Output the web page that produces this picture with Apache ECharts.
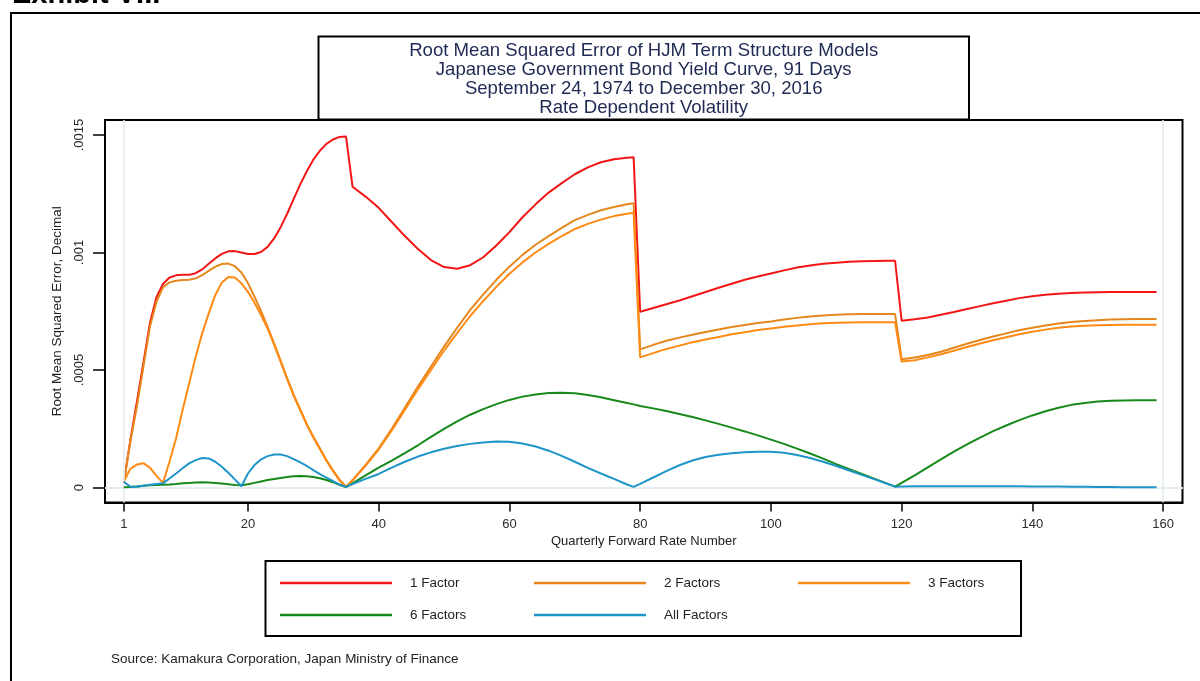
<!DOCTYPE html>
<html>
<head>
<meta charset="utf-8">
<script src="https://cdn.jsdelivr.net/npm/echarts@6/dist/echarts.min.js"></script>
<style>html,body{margin:0;padding:0;background:#fff;}#c{width:1200px;height:681px;}</style>
</head>
<body>
<div id="c"></div>
<script>
// Quarterly forward rate numbers at which values were read
const xQ = [1,2,3,4,5,6,7,8,9,10,11,12,13,14,15,16,17,18,19,20,21,22,23,24,25,26,27,28,29,30,31,32,33,34,35,36,
  38,40,42,44,46,48,50,52,54,56,58,60,62,64,66,68,70,72,74,76,78,79,
  80,82,84,86,88,90,92,94,96,98,100,102,104,106,108,110,112,114,116,118,119,
  120,122,124,126,128,130,132,134,136,138,140,142,144,146,148,150,152,154,156,158,159];

// RMSE values, in thousandths (x 0.001)
const oneFactor = [0.02,0.2,0.365,0.53,0.7,0.81,0.866,0.894,0.903,0.905,0.905,0.912,0.928,0.952,0.975,0.994,1.005,1.006,1.0,0.994,0.994,1.002,1.024,1.06,1.108,1.165,1.228,1.29,1.346,1.395,1.433,1.462,1.481,1.492,1.494,1.28,
  1.238,1.19,1.13,1.07,1.015,0.968,0.938,0.931,0.946,0.98,1.03,1.087,1.15,1.205,1.255,1.295,1.333,1.362,1.384,1.397,1.403,1.405,
  0.748,0.764,0.78,0.796,0.814,0.832,0.85,0.867,0.884,0.898,0.911,0.924,0.936,0.945,0.952,0.957,0.961,0.963,0.964,0.965,0.965,
  0.71,0.716,0.724,0.735,0.747,0.76,0.772,0.784,0.795,0.806,0.814,0.82,0.825,0.828,0.83,0.831,0.832,0.832,0.832,0.832,0.832];
const twoFactors = [0.02,0.195,0.344,0.514,0.684,0.79,0.852,0.873,0.88,0.883,0.884,0.89,0.904,0.922,0.94,0.951,0.953,0.942,0.915,0.87,0.812,0.752,0.684,0.614,0.54,0.465,0.394,0.333,0.27,0.216,0.167,0.117,0.074,0.034,0.004,0.032,
  0.097,0.167,0.25,0.34,0.43,0.515,0.6,0.68,0.756,0.822,0.884,0.94,0.99,1.033,1.07,1.105,1.138,1.16,1.18,1.194,1.205,1.21,
  0.588,0.607,0.625,0.638,0.65,0.662,0.673,0.683,0.692,0.7,0.707,0.715,0.722,0.728,0.732,0.735,0.737,0.738,0.738,0.738,0.738,
  0.546,0.553,0.564,0.578,0.595,0.612,0.628,0.643,0.656,0.669,0.68,0.69,0.698,0.704,0.709,0.712,0.715,0.716,0.717,0.717,0.717];
const threeFactors = [0.025,0.08,0.098,0.104,0.085,0.05,0.02,0.11,0.209,0.33,0.443,0.557,0.656,0.741,0.819,0.872,0.896,0.894,0.869,0.833,0.786,0.734,0.677,0.608,0.535,0.461,0.39,0.329,0.267,0.213,0.164,0.114,0.071,0.031,0.003,0.03,
  0.094,0.162,0.243,0.33,0.418,0.5,0.583,0.657,0.73,0.794,0.854,0.91,0.958,1.0,1.037,1.07,1.1,1.122,1.14,1.155,1.165,1.169,
  0.554,0.572,0.59,0.604,0.618,0.63,0.641,0.652,0.661,0.67,0.677,0.684,0.69,0.695,0.699,0.701,0.702,0.703,0.703,0.703,0.703,
  0.536,0.542,0.554,0.567,0.582,0.598,0.613,0.627,0.64,0.652,0.663,0.672,0.68,0.685,0.689,0.691,0.692,0.693,0.693,0.693,0.693];
const sixFactors = [0.002,0.003,0.005,0.008,0.01,0.011,0.012,0.013,0.015,0.018,0.02,0.022,0.023,0.022,0.02,0.017,0.014,0.011,0.01,0.014,0.02,0.026,0.032,0.037,0.041,0.045,0.048,0.049,0.048,0.045,0.04,0.032,0.023,0.012,0.002,0.018,
  0.052,0.085,0.115,0.147,0.18,0.216,0.25,0.282,0.31,0.334,0.355,0.373,0.387,0.396,0.402,0.404,0.401,0.394,0.384,0.372,0.36,0.354,
  0.347,0.337,0.326,0.313,0.3,0.286,0.271,0.255,0.239,0.222,0.204,0.186,0.166,0.145,0.123,0.1,0.078,0.057,0.036,0.015,0.004,
  0.02,0.052,0.086,0.12,0.153,0.184,0.213,0.24,0.264,0.287,0.307,0.325,0.34,0.352,0.36,0.366,0.369,0.371,0.372,0.372,0.372];
const allFactors = [0.025,0.004,0.004,0.008,0.012,0.015,0.018,0.039,0.06,0.082,0.103,0.117,0.126,0.124,0.11,0.089,0.063,0.035,0.006,0.06,0.096,0.12,0.134,0.141,0.141,0.134,0.121,0.107,0.092,0.074,0.057,0.042,0.028,0.013,0.003,0.015,
  0.037,0.058,0.085,0.11,0.132,0.15,0.165,0.177,0.186,0.192,0.196,0.195,0.188,0.175,0.157,0.135,0.11,0.084,0.06,0.037,0.013,0.003,
  0.016,0.043,0.07,0.095,0.115,0.13,0.14,0.146,0.15,0.152,0.152,0.148,0.139,0.126,0.11,0.092,0.073,0.053,0.034,0.014,0.004,
  0.005,0.006,0.006,0.006,0.006,0.006,0.006,0.006,0.006,0.006,0.005,0.005,0.005,0.004,0.004,0.003,0.003,0.002,0.002,0.002,0.001];

const UNIT = 0.001;
const seriesNames = ['1 Factor','2 Factors','3 Factors','6 Factors','All Factors'];
const seriesValues = [oneFactor, twoFactors, threeFactors, sixFactors, allFactors];
const seriesColors = ['#f21616','#e5871d','#ff8a14','#16891a','#1e95c8'];
const xTicks = [1,20,40,60,80,100,120,140,160];
const yTicks = [0,0.0005,0.001,0.0015];
const xGridLines = [1,160];
const titleLines = ['Root Mean Squared Error of HJM Term Structure Models','Japanese Government Bond Yield Curve, 91 Days','September 24, 1974 to December 30, 2016','Rate Dependent Volatility'];

const FONT = '"Liberation Sans", Arial, sans-serif';
const chart = echarts.init(document.getElementById('c'), null, {renderer:'canvas'});

const legendPos = [[280,575],[534,575],[798,575],[280,607],[534,607]];

const series = [{
  type:'line', name:'grid', data:[], silent:true, z:0,
  markLine:{silent:true, symbol:['none','none'], label:{show:false}, animation:false,
    lineStyle:{color:'#e4edf1', width:1.6, type:'solid'},
    data: yTicks.map(v=>({yAxis:v})).concat(xGridLines.map(v=>({xAxis:v})))}
}];
seriesNames.forEach((n,i)=>{
  series.push({type:'line', name:n, z:2+i, showSymbol:false, symbol:'none',
    lineStyle:{color:seriesColors[i], width:2}, itemStyle:{color:seriesColors[i]},
    data: xQ.map((x,j)=>[x, seriesValues[i][j]*UNIT])});
});

chart.setOption({
  animation:false,
  backgroundColor:'#fff',
  textStyle:{fontFamily:FONT},
  title:{text:titleLines.join('\n'), left:643.7, top:41, padding:0, textAlign:'center',
    textStyle:{fontSize:18.6, lineHeight:19, fontWeight:'normal', color:'#1f2a52', fontFamily:FONT}},
  grid:{left:105, top:120, width:1077.5, height:382.5, show:true, borderColor:'#000', borderWidth:2, backgroundColor:'transparent', containLabel:false},
  xAxis:{type:'value', min:-1.87, max:162.97,
    name:'Quarterly Forward Rate Number', nameLocation:'middle', nameGap:30,
    nameTextStyle:{fontSize:13, color:'#222', fontFamily:FONT, verticalAlign:'top'},
    axisLine:{show:true, onZero:false, lineStyle:{color:'#000', width:2}},
    axisTick:{show:true, inside:false, customValues:xTicks, length:9, lineStyle:{color:'#000', width:1.5}},
    axisLabel:{customValues:xTicks, margin:15, fontSize:13, color:'#2a2a2a', fontFamily:FONT},
    splitLine:{show:false}},
  yAxis:{type:'value', min:-0.0000634, max:0.0015638,
    name:'Root Mean Squared Error, Decimal', nameLocation:'middle', nameGap:41,
    nameTextStyle:{fontSize:13.5, color:'#222', fontFamily:FONT},
    axisLine:{show:true, onZero:false, lineStyle:{color:'#000', width:2}},
    axisTick:{show:true, inside:false, customValues:yTicks, length:12, lineStyle:{color:'#000', width:1.5}},
    axisLabel:{customValues:yTicks, rotate:90, margin:19, fontSize:13, color:'#2a2a2a', fontFamily:FONT,
      formatter:(v)=> v===0 ? '0' : String(v).replace(/^0/,'')},
    splitLine:{show:false}},
  legend: seriesNames.map((n,i)=>({data:[n], left:legendPos[i][0], top:legendPos[i][1], padding:0, itemGap:0,
    icon:'rect', itemWidth:112, itemHeight:2.5, selectedMode:false,
    textStyle:{fontSize:13.5, lineHeight:16, color:'#222', fontFamily:FONT, padding:[0,0,0,13]}})),
  graphic:[
    {type:'rect', shape:{x:11, y:13, width:1220, height:720}, style:{fill:'none', stroke:'#000', lineWidth:2}, silent:true},
    {type:'text', x:12, y:-5, style:{text:'Exhibit VIII', font:'bold 29px '+FONT, fill:'#000', verticalAlign:'middle', lineHeight:29}, silent:true},
    {type:'rect', shape:{x:318.5, y:36.5, width:650.5, height:83}, style:{fill:'none', stroke:'#000', lineWidth:2}, silent:true},
    {type:'rect', shape:{x:265.5, y:561, width:755.5, height:75}, style:{fill:'none', stroke:'#000', lineWidth:2}, silent:true},
    {type:'text', x:111, y:659, style:{text:'Source: Kamakura Corporation, Japan Ministry of Finance', font:'13.5px '+FONT, fill:'#222', verticalAlign:'middle'}, silent:true}
  ],
  series: series
});
</script>
</body>
</html>
